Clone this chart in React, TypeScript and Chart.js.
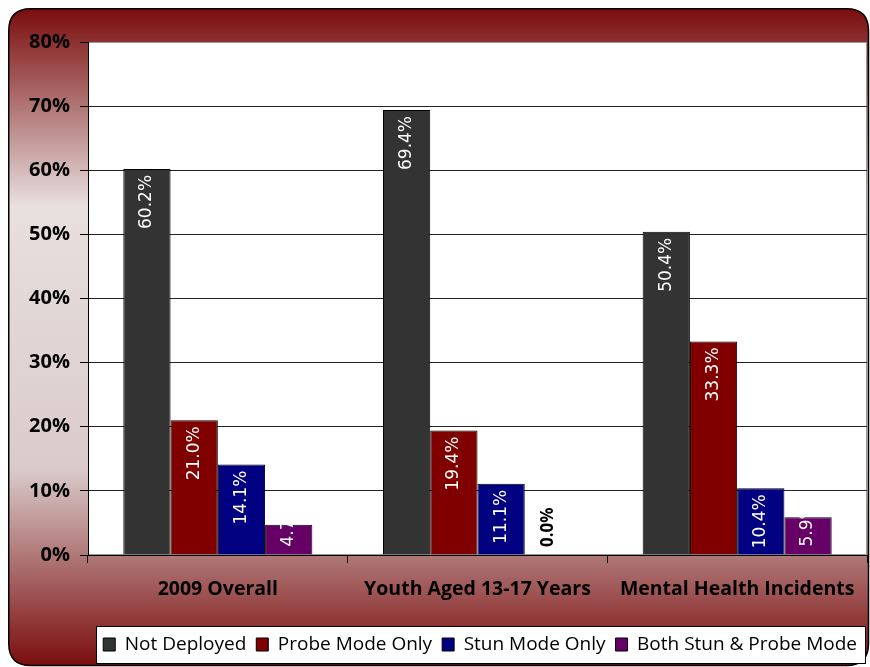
import React, { useEffect, useRef } from 'react';
import { Chart, registerables } from 'chart.js';

Chart.register(...registerables);

const categories = ['2009 Overall', 'Youth Aged 13-17 Years', 'Mental Health Incidents'];
const seriesNames = ['Not Deployed', 'Probe Mode Only', 'Stun Mode Only', 'Both Stun & Probe Mode'];
const notDeployed = [60.2, 69.4, 50.4];
const probeModeOnly = [21.0, 19.4, 33.3];
const stunModeOnly = [14.1, 11.1, 10.4];
const bothStunProbe = [4.7, 0.0, 5.9];
const seriesColors = ['#333333', '#800000', '#000080', '#660066'];
const yMin = 0;
const yMax = 80;
const yStep = 10;

const W = 862;
const H = 659;

const backgroundPlugin = {
  id: 'bgPlugin',
  beforeDraw(chart: any) {
    const { ctx, width, height, chartArea: ca } = chart;
    ctx.save();
    const g = ctx.createLinearGradient(0, 0, 0, height);
    g.addColorStop(0, '#7a0c0c');
    g.addColorStop(0.3, '#e8dfdf');
    g.addColorStop(0.7, '#dacbcb');
    g.addColorStop(1, '#7a0c0c');
    const r = 22;
    const x0 = 0.75, y0 = 0.75, x1 = width - 1.5, y1 = height - 1.5;
    ctx.beginPath();
    ctx.moveTo(x0 + r, y0);
    ctx.lineTo(x1 - r, y0);
    ctx.quadraticCurveTo(x1, y0, x1, y0 + r);
    ctx.lineTo(x1, y1 - r);
    ctx.quadraticCurveTo(x1, y1, x1 - r, y1);
    ctx.lineTo(x0 + r, y1);
    ctx.quadraticCurveTo(x0, y1, x0, y1 - r);
    ctx.lineTo(x0, y0 + r);
    ctx.quadraticCurveTo(x0, y0, x0 + r, y0);
    ctx.closePath();
    ctx.fillStyle = g;
    ctx.fill();
    ctx.lineWidth = 1.5;
    ctx.strokeStyle = '#000';
    ctx.stroke();

    // plot area
    ctx.fillStyle = '#ffffff';
    ctx.fillRect(ca.left, ca.top, ca.right - ca.left, ca.bottom - ca.top);
    ctx.strokeStyle = '#9a9a9a';
    ctx.lineWidth = 1;
    ctx.strokeRect(ca.left + 0.5, ca.top + 0.5, ca.right - ca.left - 1, ca.bottom - ca.top - 1);

    // legend box
    const lg = chart.legend;
    if (lg && lg.legendHitBoxes && lg.legendHitBoxes.length) {
      const hb = lg.legendHitBoxes;
      const left = hb[0].left - 7;
      const last = hb[hb.length - 1];
      const right = last.left + last.width + 8;
      const top = hb[0].top - 9;
      const bottom = hb[0].top + hb[0].height + 9;
      ctx.fillStyle = '#ffffff';
      ctx.fillRect(left, top, right - left, bottom - top);
      ctx.strokeStyle = '#000';
      ctx.lineWidth = 1;
      ctx.strokeRect(Math.round(left) + 0.5, Math.round(top) + 0.5, Math.round(right - left), Math.round(bottom - top));
    }
    ctx.restore();
  },
};

const labelPlugin = {
  id: 'barLabels',
  afterDatasetsDraw(chart: any) {
    const { ctx, chartArea: ca } = chart;
    chart.data.datasets.forEach((ds: any, di: number) => {
      const meta = chart.getDatasetMeta(di);
      meta.data.forEach((bar: any, i: number) => {
        const v = ds.data[i] as number;
        const text = v.toFixed(1) + '%';
        const { x, y, base, width } = bar.getProps(['x', 'y', 'base', 'width'], true);
        ctx.save();
        ctx.textBaseline = 'middle';
        if (v === 0) {
          ctx.font = 'bold 17px "Open Sans"';
          ctx.fillStyle = '#000';
          ctx.translate(x, base - 8);
          ctx.rotate(-Math.PI / 2);
          ctx.textAlign = 'left';
          ctx.fillText(text, 0, 0);
        } else {
          ctx.font = '17px "DejaVu Sans"';
          ctx.fillStyle = '#ffffff';
          const tw = ctx.measureText(text).width;
          const h = base - y;
          ctx.beginPath();
          ctx.rect(x - width / 2, y, width, Math.min(h, ca.bottom - y));
          ctx.clip();
          if (tw + 12 <= h) {
            ctx.translate(x, y + 6);
            ctx.rotate(-Math.PI / 2);
            ctx.textAlign = 'right';
          } else {
            ctx.translate(x, base - 8);
            ctx.rotate(-Math.PI / 2);
            ctx.textAlign = 'left';
          }
          ctx.fillText(text, 0, 0);
        }
        ctx.restore();
      });
    });
  },
};

export default function App() {
  const ref = useRef<HTMLCanvasElement | null>(null);

  useEffect(() => {
    if (!ref.current) return;
    const seriesData = [notDeployed, probeModeOnly, stunModeOnly, bothStunProbe];
    const chart = new Chart(ref.current, {
      type: 'bar',
      data: {
        labels: categories,
        datasets: seriesData.map((d, k) => ({
          label: seriesNames[k],
          data: d,
          backgroundColor: seriesColors[k],
          borderColor: '#000000',
          borderWidth: 1,
          categoryPercentage: 0.728,
          barPercentage: 1,
        })),
      },
      options: {
        animation: false,
        responsive: false,
        devicePixelRatio: 1,
        layout: { padding: { top: 34, right: 3, left: 0, bottom: 3 } },
        plugins: {
          tooltip: { enabled: false },
          legend: {
            position: 'bottom',
            align: 'end',
            labels: {
              boxWidth: 12,
              boxHeight: 13,
              padding: 10,
              color: '#000',
              font: { family: '"Open Sans"', size: 19 },
            },
          },
        },
        scales: {
          x: {
            grid: {
              offset: true,
              drawOnChartArea: false,
              drawTicks: true,
              tickLength: 8,
              color: '#000',
            },
            border: { color: '#000', width: 1 },
            ticks: {
              color: '#000',
              padding: 15,
              maxRotation: 0,
              autoSkip: false,
              font: { family: '"Open Sans"', size: 19.5, weight: 'bold' },
            },
            afterFit: (s: any) => {
              s.height = 70;
              s.paddingLeft = 0;
              s.paddingRight = 0;
            },
          },
          y: {
            min: yMin,
            max: yMax,
            ticks: {
              stepSize: yStep,
              color: '#000',
              padding: 10,
              font: { family: '"Open Sans"', size: 20, weight: 'bold' },
              callback: (v: any) => v + '%',
            },
            grid: {
              color: (c: any) => (c.tick && c.tick.value === yMax ? '#9a9a9a' : '#222'),
              tickColor: '#000',
              tickLength: 8,
              lineWidth: 1,
            },
            border: { color: '#000', width: 1 },
            afterFit: (s: any) => {
              s.width = 80;
              s.paddingTop = 0;
              s.paddingBottom = 0;
            },
          },
        },
      },
      plugins: [backgroundPlugin, labelPlugin],
    } as any);
    return () => chart.destroy();
  }, []);

  return (
    <div style={{ position: 'absolute', left: 8, top: 8, width: W, height: H }}>
      <canvas ref={ref} width={W} height={H} style={{ width: W, height: H, display: 'block' }} />
    </div>
  );
}
